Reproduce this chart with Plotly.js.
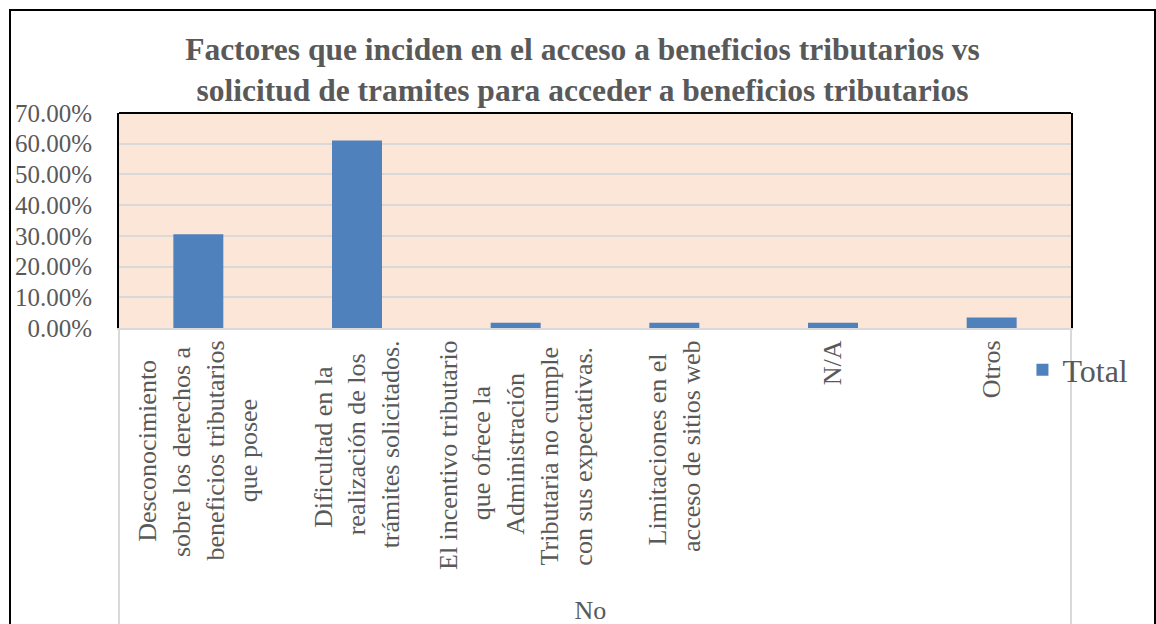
<!DOCTYPE html>
<html>
<head>
<meta charset="utf-8">
<script src="https://cdn.plot.ly/plotly-3.0.1.min.js"></script>
<style>
  html, body { margin: 0; padding: 0; background: #ffffff; overflow: hidden; width: 1156px; height: 624px; }
  #frame { position: absolute; left: 9px; top: 9px; width: 1143px; height: 680px; border: 2px solid #000000; background: #ffffff; }
  #chart { width: 1143px; height: 680px; }
</style>
</head>
<body>
<div id="frame"><div id="chart"></div></div>
<script>
// ---- data ----
const groupLabels = ["No", "No", "No", "No", "No", "No"];
const categories = [
  "Desconocimiento<br>sobre los derechos a<br>beneficios tributarios<br>que posee",
  "Dificultad en la<br>realización de los<br>trámites solicitados.",
  "El incentivo tributario<br>que ofrece la<br>Administración<br>Tributaria no cumple<br>con sus expectativas.",
  "Limitaciones en el<br>acceso de sitios web",
  "N/A",
  "Otros"
];
const totalValues = [0.3051, 0.6102, 0.0169, 0.0169, 0.0169, 0.0339];
const seriesName = "Total";
const chartTitle = "Factores que inciden en el acceso a beneficios tributarios vs<br>solicitud de tramites para acceder a beneficios tributarios";

// ---- chart ----
const serif = "Liberation Serif, Times New Roman, serif";
const grey = "#595959";
const catFontSize = 26;

// centre the lines of each multi-line (rotated) category label
function centreLines(label, size) {
  const ctx = document.createElement("canvas").getContext("2d");
  ctx.font = size + "px 'Liberation Serif'";
  const nb = "\u00A0";
  const nbW = ctx.measureText(nb).width || size * 0.25;
  const lines = label.split("<br>");
  const widths = lines.map(l => ctx.measureText(l).width);
  const maxW = Math.max.apply(null, widths);
  return lines.map((l, i) => {
    const n = Math.round((maxW - widths[i]) / 2 / nbW);
    return l + nb.repeat(n);
  }).join("<br>");
}
const shownCategories = categories.map(c => centreLines(c, catFontSize));

const trace = {
  type: "bar",
  x: [groupLabels, shownCategories],
  y: totalValues,
  name: seriesName,
  marker: { color: "#4F81BD" },
  showlegend: true,
  hoverinfo: "none"
};

const layout = {
  width: 1143,
  height: 680,
  margin: { l: 108, r: 83, t: 102, b: 363 },
  paper_bgcolor: "#ffffff",
  plot_bgcolor: "#FBE6D8",
  font: { family: serif, color: grey },
  title: {
    text: chartTitle,
    font: { family: serif, size: 31.5, color: grey, weight: "bold" },
    x: 0.5, xanchor: "center",
    y: 0.928, yanchor: "middle", yref: "container"
  },
  bargap: 0.685,
  showlegend: true,
  legend: {
    x: 0.949, xanchor: "left",
    y: -0.195, yanchor: "middle",
    font: { family: serif, size: 32, color: grey },
    bgcolor: "rgba(0,0,0,0)"
  },
  xaxis: {
    type: "multicategory",
    tickangle: -90,
    tickfont: { family: serif, size: catFontSize, color: grey },
    showline: true, linecolor: "#D9D9D9", linewidth: 2,
    showdividers: true, dividercolor: "#D9D9D9", dividerwidth: 2,
    ticks: "", showgrid: false, zeroline: false
  },
  yaxis: {
    range: [0, 0.7],
    dtick: 0.1,
    tick0: 0,
    tickformat: ".2%",
    tickfont: { family: serif, size: 25, color: grey },
    showgrid: true, gridcolor: "#D9D9D9", gridwidth: 2,
    zeroline: false,
    showline: true, linecolor: "#000000", linewidth: 2, mirror: true,
    ticks: "", ticklabelstandoff: 20
  },
  shapes: [
    { type: "line", xref: "paper", yref: "paper", x0: 0, x1: 1, y0: 1, y1: 1,
      line: { color: "#000000", width: 2 } }
  ]
};

Plotly.newPlot("chart", [trace], layout, { displayModeBar: false, staticPlot: true });
</script>
</body>
</html>
